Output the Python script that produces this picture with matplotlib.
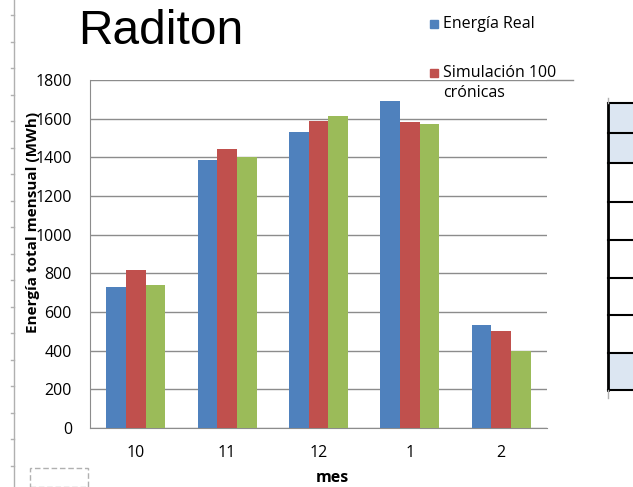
import matplotlib.pyplot as plt
from matplotlib.patches import Rectangle
from matplotlib.lines import Line2D
import numpy as np

meses = ["10", "11", "12", "1", "2"]
energia_real = [728, 1388, 1532, 1690, 533]
simulacion_100 = [817, 1442, 1587, 1585, 504]
tercera_serie = [741, 1404, 1613, 1574, 397]
yticks = [0, 200, 400, 600, 800, 1000, 1200, 1400, 1600, 1800]

azul, rojo, verde = "#4F81BD", "#C0504D", "#9BBB59"
W, H = 633, 487

plt.rcParams['font.family'] = ['Open Sans', 'DejaVu Sans']
fig = plt.figure(figsize=(W / 100, H / 100), dpi=100)

def fx(px):
    return px / W

def fy(py):
    return 1 - py / H

ax = fig.add_axes([fx(90), fy(428), fx(547) - fx(90), fy(80) - fy(428)])
x = np.arange(len(meses))
ancho = 0.215
ax.bar(x - ancho, energia_real, ancho, color=azul, zorder=3)
ax.bar(x, simulacion_100, ancho, color=rojo, zorder=3)
ax.bar(x + ancho, tercera_serie, ancho, color=verde, zorder=3)

ax.set_xlim(-0.5, len(meses) - 0.5)
ax.set_ylim(0, 1800)
ax.set_yticks(yticks)
ax.set_xticks(x)
ax.set_xticklabels(meses)
ax.yaxis.grid(True, color="#8c8c8c", linewidth=1, zorder=0)
for s in ["right", "top"]:
    ax.spines[s].set_visible(False)
for s in ["left", "bottom"]:
    ax.spines[s].set_color("#8c8c8c")
ax.tick_params(axis="both", length=0, labelsize=11.5)
ax.tick_params(axis="y", pad=13)
ax.tick_params(axis="x", pad=12)

# titulo y etiquetas
fig.text(fx(78), fy(32), "Raditon", fontsize=34.5, family="Liberation Sans", va="center", ha="left")
fig.text(fx(33), fy(222), "Energía total mensual (MWh)", rotation=90, fontsize=11,
         fontweight="bold", ha="center", va="center")
fig.text(fx(332), fy(478), "mes", fontsize=11.5, fontweight="bold", ha="center", va="center")

# leyenda (solo dos entradas visibles)
fig.add_artist(Rectangle((fx(430), fy(28)), fx(8), fy(20) - fy(28), color=azul))
fig.text(fx(443), fy(24), "Energía Real", fontsize=11.5, va="center")
fig.add_artist(Rectangle((fx(430), fy(77)), fx(8), fy(69) - fy(77), color=rojo))
fig.text(fx(443), fy(73), "Simulación 100", fontsize=11.5, va="center")
fig.text(fx(443), fy(93), "crónicas", fontsize=11.5, va="center")
fig.add_artist(Line2D([fx(547), fx(573)], [fy(80), fy(80)], color="#8c8c8c", lw=1))

# regla a la izquierda
fig.add_artist(Line2D([fx(14), fx(14)], [0, 1], color="#b0b0b0", lw=1))
for t in np.arange(15, H, 26.5):
    fig.add_artist(Line2D([fx(11), fx(14)], [fy(t), fy(t)], color="#b0b0b0", lw=1))
fig.add_artist(Rectangle((fx(30), fy(487)), fx(58), fy(468) - fy(487), fill=False,
                         edgecolor="#b0b0b0", lw=1, linestyle=(0, (4, 2))))

# tabla recortada a la derecha
filas = [103, 133, 163, 202, 240, 278, 315, 353, 390]
for i in range(len(filas) - 1):
    relleno = "#DCE6F2" if i in (0, 1, 7) else "white"
    fig.add_artist(Rectangle((fx(608), fy(filas[i + 1])), fx(633) - fx(608),
                             fy(filas[i]) - fy(filas[i + 1]), facecolor=relleno, edgecolor="none"))
for f in filas:
    fig.add_artist(Line2D([fx(608), 1], [fy(f), fy(f)], color="black", lw=1.5))
fig.add_artist(Line2D([fx(608), fx(608)], [fy(filas[0]), fy(filas[-1])], color="black", lw=2))
fig.add_artist(Line2D([fx(608), fx(608)], [fy(98), fy(103)], color="#b0b0b0", lw=1))
fig.add_artist(Line2D([fx(608), fx(608)], [fy(390), fy(398)], color="#b0b0b0", lw=1))

fig.savefig("out.png", dpi=100)
